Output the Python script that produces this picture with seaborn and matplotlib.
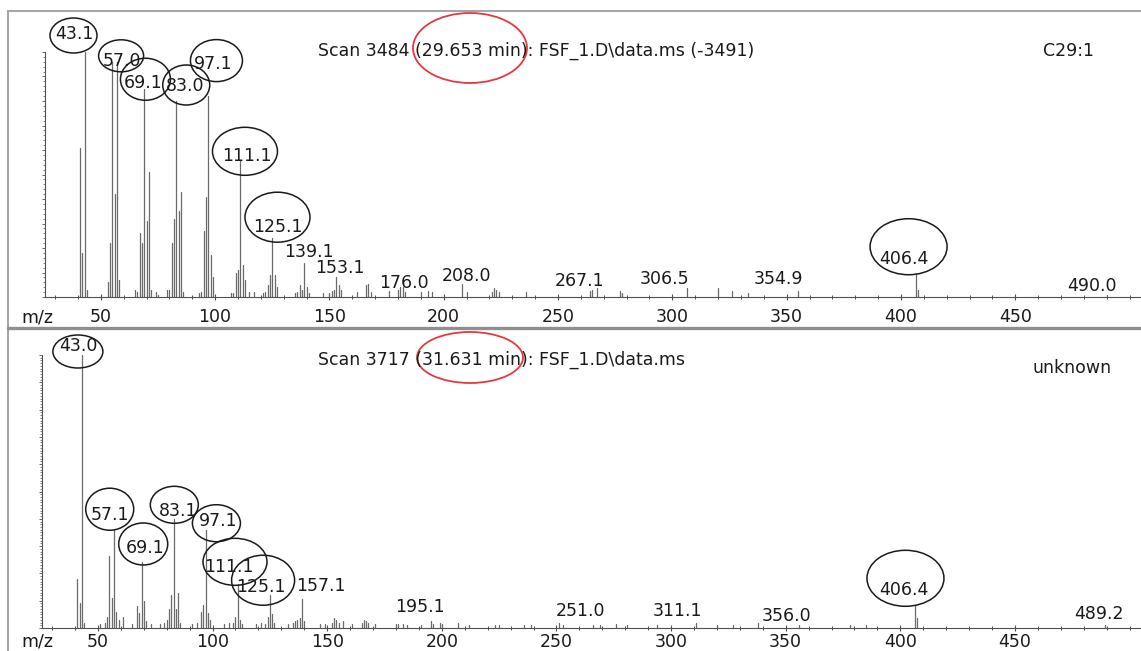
import numpy as np
import pandas as pd
import matplotlib
matplotlib.use("Agg")
import matplotlib.pyplot as plt
from matplotlib.patches import Ellipse
from matplotlib.lines import Line2D
from matplotlib.ticker import MultipleLocator
import seaborn as sns

# Scan 3484 (29.653 min) - C29:1, abundance in % of base peak
mz_top = [41, 42, 43.1, 44, 53, 54, 55, 56, 57.0, 58,
          65, 66, 67, 68, 69.1, 70, 71, 72, 74, 75,
          79, 80, 81, 82, 83.0, 84, 85, 86,
          93, 94, 95, 96, 97.1, 98, 99,
          107, 108, 109, 110, 111.1, 112, 113, 115, 117,
          121, 122, 123, 124, 125.1, 126, 127,
          135, 136, 137, 138, 139.1, 140, 141,
          147, 150, 151, 152, 153.1, 154, 155,
          162, 166, 167, 168, 176.0, 180, 181, 182, 183,
          190, 193, 195, 208.0, 210, 221, 222, 223, 224, 236,
          264, 265, 267.1, 277, 278, 306.5, 320, 326, 333,
          354.9, 406.4, 407.4, 490.0]
abund_top = [61, 18, 100, 3, 6, 22, 96, 42, 96, 7,
             3, 2, 26, 22, 85, 31, 51, 3, 2, 1,
             3, 3, 22, 32, 80, 35, 43, 2,
             1.5, 2, 27, 41, 82, 17, 8,
             1.5, 1.5, 10, 11, 56, 13, 7, 2, 2,
             1.5, 2, 5, 9, 24, 9, 4,
             1.5, 2, 5, 3, 14, 4, 1.5,
             1.5, 1.5, 2.5, 3, 8, 5, 3,
             2, 5, 5.5, 2, 2.5, 3, 4, 4, 2,
             2, 2.5, 2, 5.5, 2, 2, 3.5, 3, 2, 2,
             2.5, 3, 3.5, 2.5, 1.5, 3.5, 3.5, 2.5, 1.5,
             2.5, 9.5, 3, 1]
labels_top = ["43.1", "57.0", "69.1", "83.0", "97.1", "111.1", "125.1", "139.1",
              "153.1", "176.0", "208.0", "267.1", "306.5", "354.9", "406.4", "490.0"]

# Scan 3717 (31.631 min) - unknown
mz_bot = [41, 42, 43.0, 44, 51, 53, 54, 55, 56, 57.1, 58, 59, 61,
          65, 67, 68, 69.1, 70, 71, 73, 77,
          79, 80, 81, 82, 83.1, 84, 85, 86, 91, 93,
          95, 96, 97.1, 98, 99, 105, 107,
          109, 110, 111.1, 112, 113, 119, 121,
          123, 124, 125.1, 126, 127,
          133, 135, 136, 137, 138, 139.2, 140,
          147, 149, 152, 153, 154, 155, 157.1,
          161, 165, 166, 167, 168, 171,
          180, 181, 183, 185, 191, 195.1, 196, 199, 200, 207, 212,
          223, 225, 236, 239, 251.0, 253, 266, 269, 276, 281, 294,
          311.1, 320, 327, 338, 356.0, 378, 385, 406.4, 407.4, 489.2]
abund_bot = [18, 9, 100, 2, 1.5, 2, 4, 26.5, 11, 36, 6, 3, 4,
             1.5, 8, 5.5, 24, 10, 2.5, 1.5, 1.5,
             2, 3, 7, 12, 40, 7, 13, 2, 1.5, 2,
             6, 8.5, 36, 5.5, 3, 1.5, 2,
             2, 4, 16, 3, 1.5, 1.5, 2,
             1.5, 4, 12, 5, 2,
             1.5, 2, 2.5, 3, 3.7, 10.6, 2.4,
             1.5, 1.5, 2, 3.7, 3, 2, 2.5,
             1.5, 2, 3, 2.5, 2, 1.5,
             1.5, 1.5, 1.5, 1, 1.2, 2.4, 1.5, 1.8, 1.5, 1.8, 1.2,
             1, 1.2, 1, 1, 2, 1, 1, 1, 1.5, 1, 1,
             2, 1, 1, 2, 1, 1, 1, 8.5, 3.7, 1]
labels_bot = ["43.0", "57.1", "69.1", "83.1", "97.1", "111.1", "125.1", "157.1",
              "195.1", "251.0", "311.1", "356.0", "406.4", "489.2"]

titles = ["Scan 3484 (29.653 min): FSF_1.D\\data.ms (-3491)",
          "Scan 3717 (31.631 min): FSF_1.D\\data.ms"]
compounds = ["C29:1", "unknown"]
xticks = [50, 100, 150, 200, 250, 300, 350, 400, 450]

# label placement (pixels): text centre relative to peak top, and rings around text
offsets_top = {"43.1": (-11, 19), "57.0": (5, 2), "69.1": (-1, 7), "83.0": (9, 16),
               "97.1": (5, 33), "111.1": (6, 5), "125.1": (5, 13), "139.1": (4, 12),
               "153.1": (3, 11), "176.0": (15, 9), "208.0": (4, 9), "267.1": (-18, 9),
               "306.5": (-23, 11), "354.9": (-19, 13), "406.4": (-12, 16), "490.0": (-15, 10)}
rings_top = {"43.1": (-0.5, -2.5, 47, 35), "57.0": (-0.7, 4, 45, 32), "69.1": (2, 2.5, 50, 42),
             "83.0": (1, 0, 47, 40), "97.1": (3, 2.5, 52, 42), "111.1": (-1.5, 3.5, 65, 48),
             "125.1": (0, 8, 65, 50), "406.4": (5, 11, 77, 56)}
offsets_bot = {"43.0": (-4, 10.5), "57.1": (-4, 16), "69.1": (3, 16), "83.1": (4, 9),
               "97.1": (12, 10), "111.1": (-9, 19), "125.1": (-9, 10), "157.1": (-23, 36),
               "195.1": (-11, 16), "251.0": (22, 13), "311.1": (-19, 13), "356.0": (-13, 11),
               "406.4": (-11, 16), "489.2": (-6, 13)}
rings_bot = {"43.0": (0, -7, 50, 33), "57.1": (-0.5, 4.5, 48, 42), "69.1": (-1.5, 2.5, 49, 42),
             "83.1": (-3.5, 5, 48, 37), "97.1": (-1.5, -3.5, 48, 37), "111.1": (6, 3.5, 64, 47),
             "125.1": (2, 5, 63, 50), "406.4": (1.5, 10.5, 77, 56)}

sns.set_theme(style="ticks")
plt.rcParams["font.family"] = ["DejaVu Sans"]

W, H = 1141, 651
FS = 12.5
INK = "#1a1a1a"
STICK = "#6a6a6a"
AXC = "#505050"

fig = plt.figure(figsize=(W / 100, H / 100), dpi=100)
fig.patch.set_facecolor("white")


def fig_line(xs, ys, lw, color):
    fig.add_artist(Line2D([x / W for x in xs], [1 - y / H for y in ys],
                          transform=fig.transFigure, lw=lw, color=color))


def draw_panel(ax, mz, abund, labels, offsets, rings, minor_y, pad):
    n = len(mz)
    sticks = pd.DataFrame({
        "mz": np.repeat(mz, 2),
        "abund": np.column_stack([np.zeros(n), abund]).ravel(),
        "peak": np.repeat(np.arange(n), 2),
    })
    sns.lineplot(data=sticks, x="mz", y="abund", units="peak", estimator=None,
                 sort=False, color=STICK, lw=0.9, ax=ax, legend=False)
    ax.set_xlim(25.6, 505)
    ax.set_ylim(0, 100)
    ax.set(xlabel="", ylabel="")
    ax.set_facecolor("none")
    ax.spines[["top", "right"]].set_visible(False)
    for s in ["left", "bottom"]:
        ax.spines[s].set_color(AXC)
        ax.spines[s].set_linewidth(0.8)
    ax.set_xticks(xticks)
    ax.set_xticklabels([str(t) for t in xticks])
    ax.xaxis.set_minor_locator(MultipleLocator(10))
    ax.yaxis.set_major_locator(MultipleLocator(10))
    ax.yaxis.set_minor_locator(MultipleLocator(minor_y))
    ax.tick_params(axis="x", which="major", direction="inout", length=5, width=0.8,
                   color=AXC, labelsize=FS, labelcolor=INK, pad=pad)
    ax.tick_params(axis="x", which="minor", direction="inout", length=3, width=0.7, color=AXC)
    ax.tick_params(axis="y", which="major", direction="out", length=2.5, width=0.6,
                   color=AXC, labelleft=False)
    ax.tick_params(axis="y", which="minor", direction="out", length=1.5, width=0.5, color=AXC)

    mz_arr = np.asarray(mz, dtype=float)
    for lab in labels:
        i = int(np.argmin(np.abs(mz_arr - float(lab))))
        x, y = mz[i], abund[i]
        dx, dy = offsets[lab]
        ax.annotate(lab, xy=(x, y), xytext=(dx, dy - 6.3), textcoords="offset pixels",
                    ha="center", va="baseline", fontsize=FS, color=INK,
                    annotation_clip=False)
        if lab in rings:
            ex, ey, w, h = rings[lab]
            px, py = ax.transData.transform((x, y))
            cx, cy = px + dx + ex, py + dy + ey
            fig.add_artist(Ellipse((cx / W, cy / H), w / W, h / H, transform=fig.transFigure,
                                   fill=False, ec=INK, lw=1.1))


ax_top = fig.add_axes([45 / W, 1 - 297 / H, (W - 45) / W, 245 / H])
ax_bot = fig.add_axes([42 / W, 1 - 628 / H, (W - 42) / W, 273 / H])

draw_panel(ax_top, mz_top, abund_top, labels_top, offsets_top, rings_top, 2, 5.5)
draw_panel(ax_bot, mz_bot, abund_bot, labels_bot, offsets_bot, rings_bot, 1, 1.3)

# headers
fig.text(318 / W, 1 - 56 / H, titles[0], ha="left", va="baseline", fontsize=FS, color=INK)
fig.text(1043 / W, 1 - 56.5 / H, compounds[0], ha="left", va="baseline", fontsize=FS, color=INK)
fig.text(318 / W, 1 - 364.5 / H, titles[1], ha="left", va="baseline", fontsize=FS, color=INK)
fig.text(1033 / W, 1 - 373 / H, compounds[1], ha="left", va="baseline", fontsize=FS, color=INK)
fig.text(21 / W, 1 - 322 / H, "m/z", ha="left", va="baseline", fontsize=FS, color=INK)
fig.text(21 / W, 1 - 646 / H, "m/z", ha="left", va="baseline", fontsize=FS, color=INK)

# red rings around the retention times
fig.add_artist(Ellipse((470 / W, 1 - 48 / H), 114 / W, 70 / H, transform=fig.transFigure,
                       fill=False, ec="#e8383d", lw=1.3))
fig.add_artist(Ellipse((470 / W, 1 - 357.5 / H), 106 / W, 51 / H, transform=fig.transFigure,
                       fill=False, ec="#e8383d", lw=1.3))

# window frame
fig_line([8, W], [11, 11], 1.5, "#a6a6a6")
fig_line([8, 8], [11, H], 1.5, "#a6a6a6")
fig_line([8, W], [328, 328], 2.4, "#8f8f8f")

fig.savefig("out.png", dpi=100, facecolor="white")
